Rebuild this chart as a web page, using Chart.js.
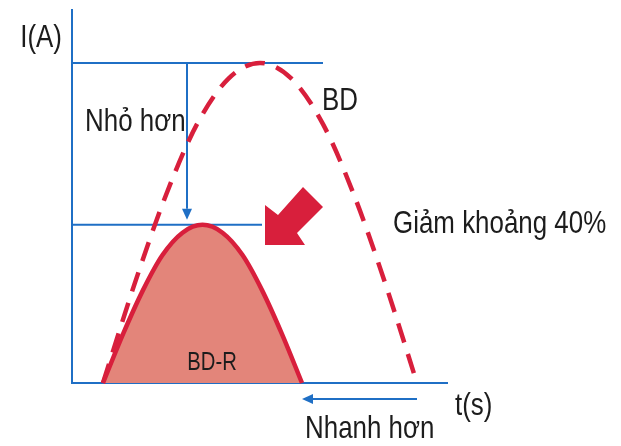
<!DOCTYPE html>
<html>
<head>
<meta charset="utf-8">
<script src="https://cdn.jsdelivr.net/npm/chart.js@4.4.0/dist/chart.umd.min.js"></script>
<style>
  body { margin: 0; background: #fff; }
</style>
</head>
<body>
<canvas id="myChart" width="621" height="446"></canvas>
<script>
// t in arbitrary units (0..75), I in arbitrary units (0..100)
const tBD = [6.2, 12.5, 18.8, 25.0, 31.3, 37.6, 43.9, 50.2, 56.4, 62.7, 69.0];
const iBD = [0, 26.5, 50.4, 69.4, 81.6, 85.8, 81.6, 69.4, 50.4, 26.5, 0];
const tBDR = [6.2, 10.2, 14.2, 18.1, 22.1, 26.1, 30.1, 34.1, 38.0, 42.0, 46.0];
const iBDR = [0, 13.1, 24.9, 34.3, 40.3, 42.4, 40.3, 34.3, 24.9, 13.1, 0];
const seriesNames = ['BD', 'BD-R'];

const FONT = "'Liberation Sans', Arial, sans-serif";
const NARROW = 0.81; // squeeze to look like a condensed face
const BLUE = '#1f6fc5';
const RED = '#d81f3c';
const SALMON = '#e3857a';

const toPts = (xs, ys) => xs.map((x, i) => ({ x: x, y: ys[i] }));

// blue lines, arrows, red block arrow and labels
const notes = {
  id: 'notes',
  beforeDatasetsDraw(chart) {
    const { ctx, scales: { x, y } } = chart;
    const topI = Math.max(...iBD);
    const lowI = Math.max(...iBDR);
    ctx.save();
    ctx.strokeStyle = BLUE;
    ctx.fillStyle = BLUE;
    ctx.lineWidth = 2;
    // peak levels
    hline(ctx, x.getPixelForValue(0), x.getPixelForValue(50.2), y.getPixelForValue(topI));
    hline(ctx, x.getPixelForValue(0), x.getPixelForValue(38), y.getPixelForValue(lowI));
    // "smaller" arrow
    arrow(ctx, x.getPixelForValue(23), y.getPixelForValue(topI), x.getPixelForValue(23), y.getPixelForValue(lowI) - 5);
    // "faster" arrow, from BD end to BD-R end
    const ya = y.getPixelForValue(0) + 16;
    arrow(ctx, x.getPixelForValue(tBD[tBD.length - 1]), ya, x.getPixelForValue(tBDR[tBDR.length - 1]), ya);
    ctx.restore();
  },
  afterDatasetsDraw(chart) {
    const { ctx, scales: { x, y } } = chart;
    ctx.save();
    // red block arrow pointing down-left
    const px = x.getPixelForValue(38.6), py = y.getPixelForValue(37);
    const shape = [[0, 0], [0, -40], [13, -30], [38, -58], [58, -38], [32, -12], [40, 0]];
    ctx.fillStyle = RED;
    ctx.beginPath();
    shape.forEach((p, i) => i ? ctx.lineTo(px + p[0], py + p[1]) : ctx.moveTo(px + p[0], py + p[1]));
    ctx.closePath();
    ctx.fill();

    ctx.fillStyle = '#1c1c1c';
    ctx.textBaseline = 'alphabetic';
    const label = (txt, t, i, size, align) => {
      ctx.save();
      ctx.translate(x.getPixelForValue(t), y.getPixelForValue(i));
      ctx.scale(NARROW, 1);
      ctx.font = size + 'px ' + FONT;
      ctx.textAlign = align || 'left';
      ctx.fillText(txt, 0, 0);
      ctx.restore();
    };
    label('I(A)', -2, 90.0, 32, 'right');
    label('Nhỏ hơn', 2.6, 67.6, 32);
    label(seriesNames[0], 50, 73.2, 32);
    label('Giảm khoảng 40%', 64.2, 40.2, 32);
    label(seriesNames[1], 28, 3.5, 25, 'center');
    label('t(s)', 76.6, -8.6, 32);
    label('Nhanh hơn', 46.6, -14.7, 32);
    ctx.restore();
  }
};

function hline(ctx, x1, x2, yy) {
  ctx.beginPath();
  ctx.moveTo(x1, yy);
  ctx.lineTo(x2, yy);
  ctx.stroke();
}

function arrow(ctx, x1, y1, x2, y2) {
  const a = Math.atan2(y2 - y1, x2 - x1);
  const len = 11, w = 5;
  const bx = x2 - len * Math.cos(a), by = y2 - len * Math.sin(a);
  ctx.beginPath();
  ctx.moveTo(x1, y1);
  ctx.lineTo(bx, by);
  ctx.stroke();
  ctx.beginPath();
  ctx.moveTo(x2, y2);
  ctx.lineTo(bx + w * Math.sin(a), by - w * Math.cos(a));
  ctx.lineTo(bx - w * Math.sin(a), by + w * Math.cos(a));
  ctx.closePath();
  ctx.fill();
}

const ctx = document.getElementById('myChart').getContext('2d');
const myChart = new Chart(ctx, {
  type: 'scatter',
  data: {
    datasets: [
      {
        label: seriesNames[1],
        data: toPts(tBDR, iBDR),
        showLine: true,
        borderColor: RED,
        borderWidth: 4.5,
        backgroundColor: SALMON,
        fill: 'origin',
        pointRadius: 0,
        cubicInterpolationMode: 'monotone',
        clip: false,
      },
      {
        label: seriesNames[0],
        data: toPts(tBD, iBD),
        showLine: true,
        borderColor: RED,
        borderWidth: 4.5,
        borderDash: [20, 12],
        fill: false,
        pointRadius: 0,
        cubicInterpolationMode: 'monotone',
        clip: false,
      },
    ],
  },
  options: {
    responsive: false,
    animation: false,
    layout: { padding: { left: 72, right: 174, top: 10, bottom: 63 } },
    plugins: { legend: { display: false }, tooltip: { enabled: false } },
    scales: {
      x: {
        type: 'linear',
        min: 0,
        max: 75,
        grid: { display: false, drawTicks: false },
        ticks: { display: false },
        border: { color: BLUE, width: 2 },
        afterFit: (s) => { s.height = 0; },
      },
      y: {
        type: 'linear',
        min: 0,
        max: 100,
        grid: { display: false, drawTicks: false },
        ticks: { display: false },
        border: { color: BLUE, width: 2 },
        afterFit: (s) => { s.width = 0; },
      },
    },
  },
  plugins: [notes],
});
</script>
</body>
</html>
